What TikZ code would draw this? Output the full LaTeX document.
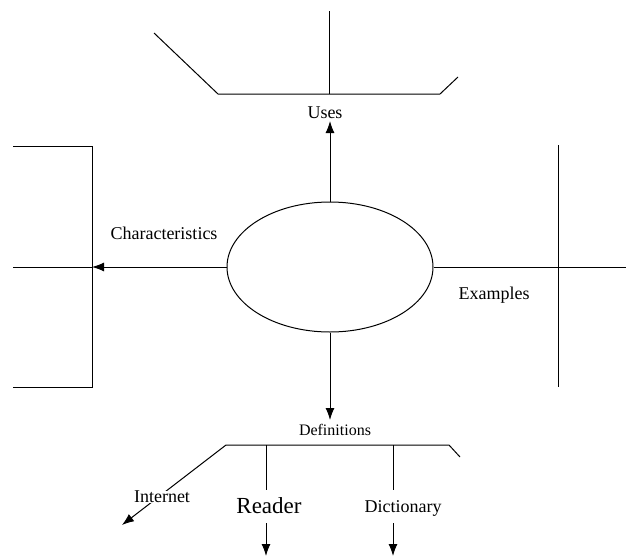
\documentclass[tikz,border=0pt]{standalone}
\usepackage{fontspec}
\setmainfont{Liberation Serif}
\usetikzlibrary{arrows.meta,shapes.geometric}
\begin{document}
\begin{tikzpicture}[x=1pt,y=-1pt,
  line width=1pt,
  link/.style={draw,-{Latex[length=12pt,width=9pt]}},
  label18/.style={font=\fontsize{18}{20}\selectfont,inner sep=1pt},
  labelsmall/.style={font=\fontsize{16}{18}\selectfont,inner sep=1pt},
  labelbig/.style={font=\fontsize{23}{26}\selectfont,inner sep=1pt}]
\useasboundingbox (0,0) rectangle (626,557);

% central topic
\node[draw,ellipse,minimum width=206pt,minimum height=130pt,inner sep=0pt] (topic) at (330,267) {};

% upper frame
\coordinate (uL) at (154,33);
\coordinate (uA) at (218,94);
\coordinate (uB) at (440,94);
\coordinate (uR) at (458,77);
\coordinate (uM) at (329,94);
\coordinate (uT) at (329,11);
\draw (uL) -- (uA) -- (uB) -- (uR);
\draw (uT) -- (uM);
\node[label18] (uses) at (325,113) {Uses};
\coordinate (usesTip) at (330,121);
\draw[link] (topic.north) -- (usesTip);

% left bracket
\coordinate (lT0) at (13,146);
\coordinate (lT1) at (92,146);
\coordinate (lB1) at (92,387);
\coordinate (lB0) at (13,387);
\coordinate (lM) at (92,267);
\coordinate (lE) at (13,267);
\draw (lT0) -- (lT1) -- (lB1) -- (lB0);
\draw (lE) -- (lM);
\draw[link] (topic.west) -- (lM);
\node[label18] (chars) at (164,233) {Characteristics};

% right cross
\coordinate (rE) at (626,267);
\coordinate (rT) at (558,145);
\coordinate (rB) at (558,387);
\draw (topic.east) -- (rE);
\draw (rT) -- (rB);
\node[label18] (examples) at (494,295) {Examples};

% lower frame
\coordinate (defTip) at (330,420);
\draw[link] (topic.south) -- (defTip);
\node[labelsmall] (defs) at (335,430) {Definitions};
\coordinate (dA) at (226,445);
\coordinate (dB) at (449,445);
\coordinate (dR) at (460,457);
\draw (dA) -- (dB) -- (dR);
\coordinate (inetTip) at (122,525);
\draw[link] (dA) -- (inetTip);
\node[label18,fill=white,inner sep=0pt] (internet) at (162,497) {Internet};

% reader branch
\coordinate (rdTop) at (266,445);
\coordinate (rdBot) at (266,490);
\draw (rdTop) -- (rdBot);
\node[labelbig] (reader) at (269,506) {Reader};
\coordinate (rdA) at (266,523);
\coordinate (rdTip) at (266,556);
\draw[link] (rdA) -- (rdTip);

% dictionary branch
\coordinate (dcTop) at (393,445);
\coordinate (dcBot) at (393,490);
\draw (dcTop) -- (dcBot);
\node[label18] (dict) at (403,508) {Dictionary};
\coordinate (dcA) at (393,523);
\coordinate (dcTip) at (393,556);
\draw[link] (dcA) -- (dcTip);
\end{tikzpicture}
\end{document}
